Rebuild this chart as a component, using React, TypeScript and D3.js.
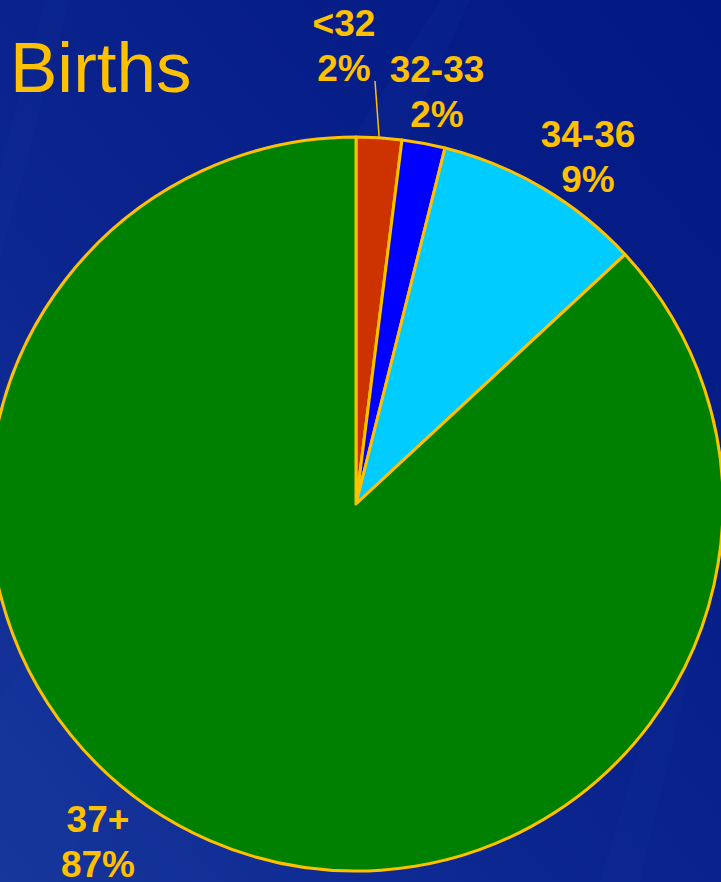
import React, { useEffect, useRef } from 'react';
import * as d3 from 'd3';

// Gestational age at birth (weeks) and share of births
const categories = ['<32', '32-33', '34-36', '37+'];
const shares = [2.0, 1.9, 9.2, 86.9];
const shareLabels = ['2%', '2%', '9%', '87%'];
const sliceColors = ['#CC3300', '#0000FF', '#00CCFF', '#008000'];

// label placement (centre x, first baseline y)
const labelPos = [
  { x: 344, y: 36 },
  { x: 437, y: 82 },
  { x: 588, y: 147 },
  { x: 98, y: 832 },
];

const W = 721;
const H = 882;
const GOLD = '#FFC000';

const App: React.FC = () => {
  const svgRef = useRef<SVGSVGElement>(null);

  useEffect(() => {
    if (!svgRef.current) return;
    const svg = d3.select(svgRef.current);
    svg.selectAll('*').remove();

    // background
    const defs = svg.append('defs');
    const bg = defs.append('linearGradient')
      .attr('id', 'bg')
      .attr('x1', '0').attr('y1', '1')
      .attr('x2', '1').attr('y2', '0');
    bg.append('stop').attr('offset', '0%').attr('stop-color', '#16369B');
    bg.append('stop').attr('offset', '45%').attr('stop-color', '#0A238D');
    bg.append('stop').attr('offset', '100%').attr('stop-color', '#021883');

    svg.append('rect').attr('width', W).attr('height', H).attr('fill', 'url(#bg)');

    // faint diagonal streaks
    const streaks = [
      [[0, 700], [0, 882], [60, 882], [470, 0], [440, 0]],
      [[0, 170], [0, 260], [70, 0], [45, 0]],
      [[600, 882], [640, 882], [721, 540], [721, 470]],
    ];
    streaks.forEach(p => {
      svg.append('polygon')
        .attr('points', p.map(q => q.join(',')).join(' '))
        .attr('fill', '#3358B8')
        .attr('opacity', 0.06);
    });

    // title
    svg.append('text')
      .attr('x', 10)
      .attr('y', 92)
      .attr('fill', GOLD)
      .attr('font-family', 'Liberation Sans, Arial, sans-serif')
      .attr('font-size', 71)
      .text('Births');

    const cx = 356;
    const cy = 504;
    const r = 367;

    const pie = d3.pie<number>().sort(null).value(d => d);
    const arc = d3.arc<d3.PieArcDatum<number>>().innerRadius(0).outerRadius(r);
    const arcs = pie(shares);

    const g = svg.append('g').attr('transform', `translate(${cx},${cy})`);
    g.selectAll('path')
      .data(arcs)
      .enter()
      .append('path')
      .attr('d', arc)
      .attr('fill', (_d, i) => sliceColors[i])
      .attr('stroke', GOLD)
      .attr('stroke-width', 3)
      .attr('stroke-linejoin', 'round');

    // leader line for the first slice
    const a0 = (arcs[0].startAngle + arcs[0].endAngle) / 2;
    const edge = d3.arc<any>().innerRadius(r + 1).outerRadius(r + 1).centroid({ startAngle: a0, endAngle: a0 } as any);
    svg.append('line')
      .attr('x1', labelPos[0].x + 31)
      .attr('y1', labelPos[0].y + 45)
      .attr('x2', cx + edge[0])
      .attr('y2', cy + edge[1])
      .attr('stroke', GOLD)
      .attr('stroke-width', 1.5);

    // labels
    categories.forEach((c, i) => {
      const t = svg.append('text')
        .attr('fill', GOLD)
        .attr('font-family', 'Liberation Sans, Arial, sans-serif')
        .attr('font-weight', 'bold')
        .attr('font-size', 37)
        .attr('text-anchor', 'middle');
      t.append('tspan').attr('x', labelPos[i].x).attr('y', labelPos[i].y).text(c);
      t.append('tspan').attr('x', labelPos[i].x).attr('y', labelPos[i].y + 45).text(shareLabels[i]);
    });
  }, []);

  return (
    <svg
      ref={svgRef}
      width={W}
      height={H}
      style={{ position: 'absolute', left: 0, top: 0, display: 'block' }}
    />
  );
};

export default App;
